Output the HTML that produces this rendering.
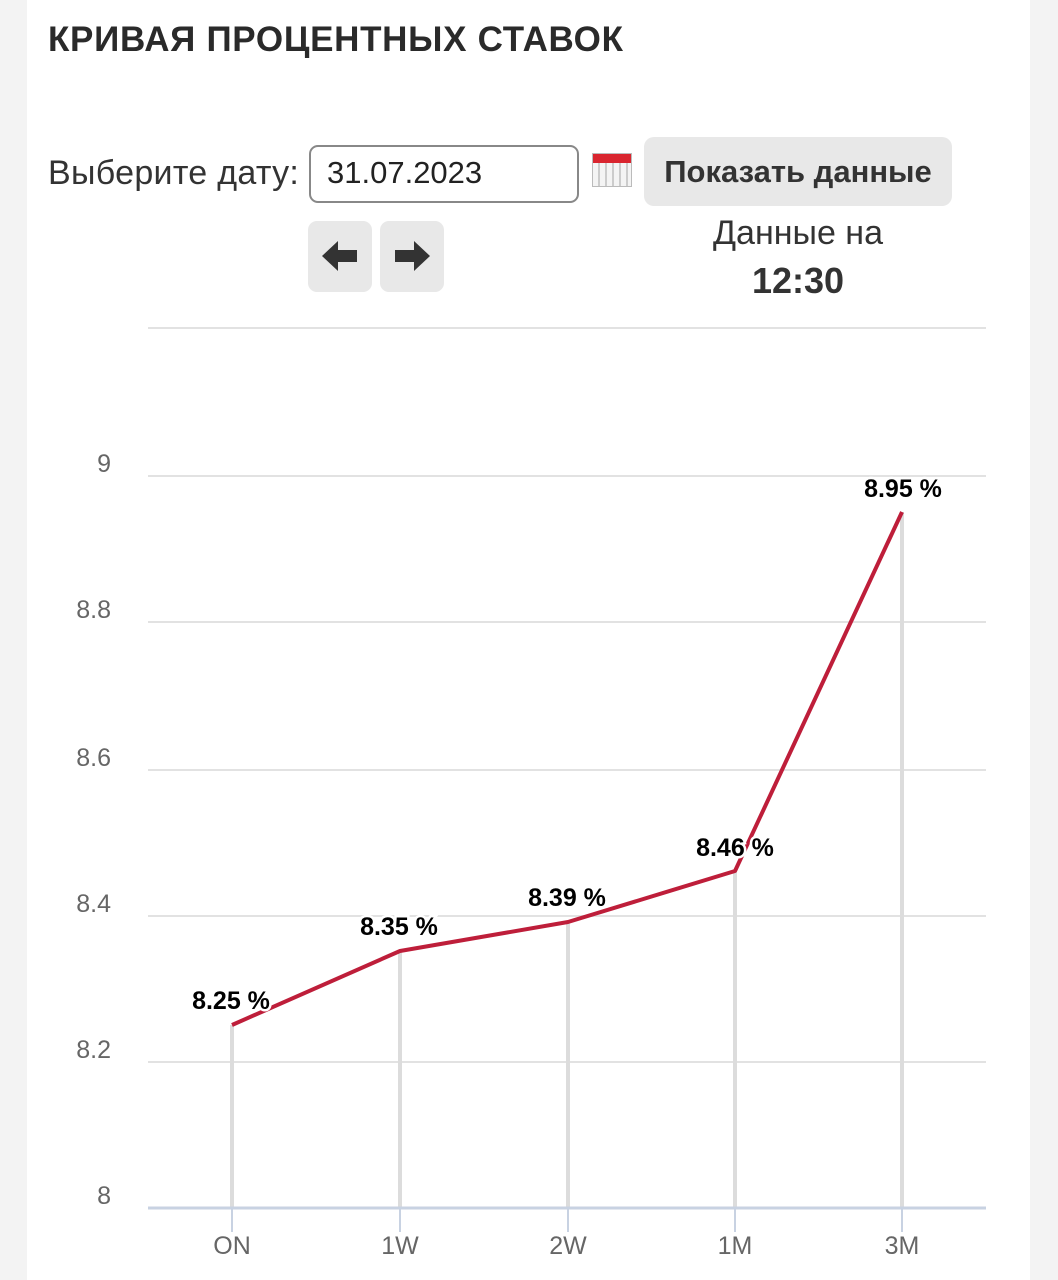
<!DOCTYPE html>
<html><head><meta charset="utf-8"><style>
body{margin:0;width:1058px;height:1280px;background:#f3f3f3;font-family:"Liberation Sans",sans-serif;position:relative;overflow:hidden}
.card{position:absolute;left:27px;top:0;width:1003px;height:1280px;background:#fff}
.abs{position:absolute}
</style></head><body>
<div class="card"></div>
<div class="abs" style="left:48px;top:20px;font-size:35px;font-weight:bold;color:#2a2a2a;letter-spacing:0.7px">КРИВАЯ ПРОЦЕНТНЫХ СТАВОК</div>
<div class="abs" style="left:48px;top:154px;font-size:34px;color:#333;letter-spacing:0.3px">Выберите дату:</div>
<div class="abs" style="left:309px;top:145px;width:270px;height:58px;border:2px solid #888;border-radius:9px;box-sizing:border-box;font-size:31px;color:#222;padding:8px 0 0 16px">31.07.2023</div>
<div class="abs" style="left:592px;top:153px;width:40px;height:34px;background:repeating-linear-gradient(90deg,#f4f4f4 0 5px,#ccc 5px 7px);border:1px solid #bbb;box-sizing:border-box"><div style="height:9px;background:#d9252f"></div></div>
<div class="abs" style="left:644px;top:137px;width:308px;height:69px;background:#e8e8e8;border-radius:10px;font-size:31px;font-weight:bold;color:#333;text-align:center;line-height:70px">Показать данные</div>
<div class="abs" style="left:308px;top:221px;width:64px;height:71px;background:#e8e8e8;border-radius:9px"></div>
<div class="abs" style="left:380px;top:221px;width:64px;height:71px;background:#e8e8e8;border-radius:9px"></div>
<svg class="abs" style="left:0;top:0" width="1058" height="1280">
<polygon points="322,256 338,241 338,250 357,250 357,262 338,262 338,271" fill="#333"/>
<polygon points="430,256 414,241 414,250 395,250 395,262 414,262 414,271" fill="#333"/>
<g stroke="#e2e2e2" stroke-width="2">
<line x1="148" x2="986" y1="328" y2="328"/><line x1="148" x2="986" y1="476" y2="476"/><line x1="148" x2="986" y1="622" y2="622"/><line x1="148" x2="986" y1="770" y2="770"/><line x1="148" x2="986" y1="916" y2="916"/><line x1="148" x2="986" y1="1062" y2="1062"/>
</g>
<g stroke="#dcdcdc" stroke-width="4">
<line x1="232" x2="232" y1="1025" y2="1208"/><line x1="400" x2="400" y1="951" y2="1208"/><line x1="568" x2="568" y1="922" y2="1208"/><line x1="735" x2="735" y1="871" y2="1208"/><line x1="902" x2="902" y1="512" y2="1208"/>
</g>
<g stroke="#c8d2e2" stroke-width="2"><line x1="232" x2="232" y1="1208" y2="1232"/><line x1="400" x2="400" y1="1208" y2="1232"/><line x1="568" x2="568" y1="1208" y2="1232"/><line x1="735" x2="735" y1="1208" y2="1232"/><line x1="902" x2="902" y1="1208" y2="1232"/></g>
<line x1="148" x2="986" y1="1208" y2="1208" stroke="#c8d2e2" stroke-width="3"/>
<polyline points="232,1025 400,951 568,922 735,871 902,512" fill="none" stroke="#be1e3a" stroke-width="4" stroke-linejoin="round"/>
<g font-size="25" fill="#666" text-anchor="end"><text x="111" y="472">9</text><text x="111" y="618">8.8</text><text x="111" y="766">8.6</text><text x="111" y="912">8.4</text><text x="111" y="1058">8.2</text><text x="111" y="1204">8</text></g>
<g font-size="25" fill="#666" text-anchor="middle"><text x="232" y="1254">ON</text><text x="400" y="1254">1W</text><text x="568" y="1254">2W</text><text x="735" y="1254">1M</text><text x="902" y="1254">3M</text></g>
<g font-size="25" font-weight="bold" fill="#000" text-anchor="middle" stroke="#fff" stroke-width="5" paint-order="stroke"><text x="231" y="1009">8.25 %</text><text x="399" y="935">8.35 %</text><text x="567" y="906">8.39 %</text><text x="735" y="856">8.46 %</text><text x="903" y="497">8.95 %</text></g>
</svg>
<div class="abs" style="left:644px;top:214px;width:308px;text-align:center;font-size:34px;color:#333">Данные на</div>
<div class="abs" style="left:644px;top:260px;width:308px;text-align:center;font-size:36px;font-weight:bold;color:#333">12:30</div>
</body></html>
